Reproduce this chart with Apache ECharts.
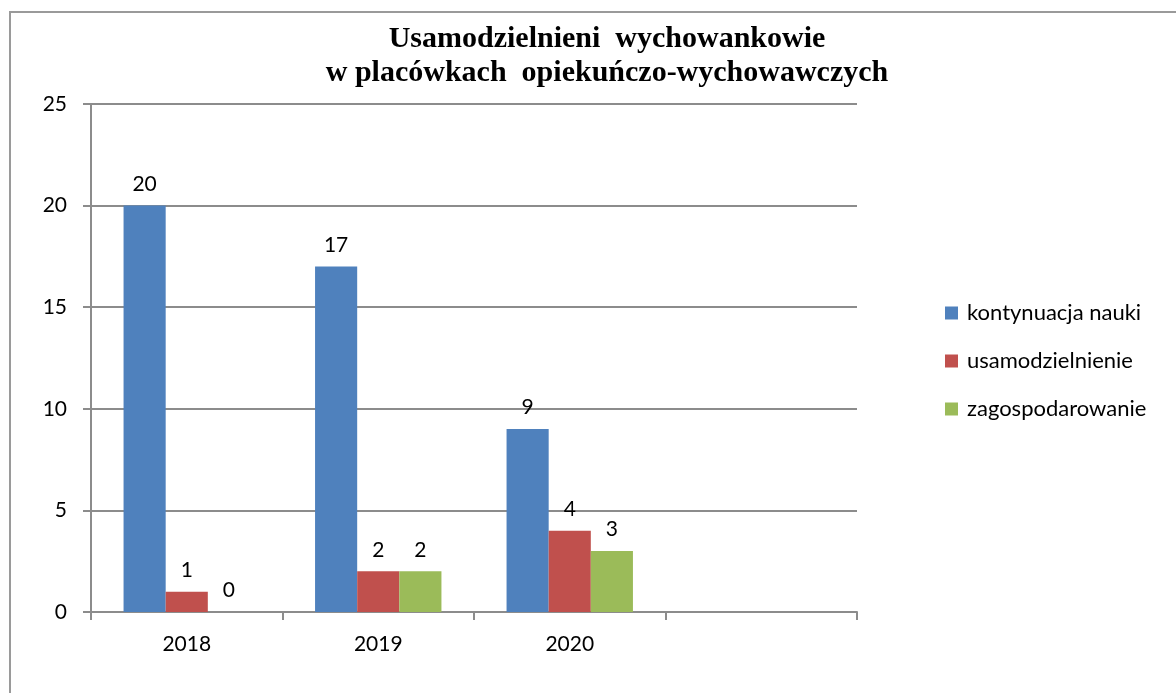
<!DOCTYPE html>
<html>
<head>
<meta charset="utf-8">
<script src="https://cdn.jsdelivr.net/npm/echarts@6/dist/echarts.min.js"></script>
<style>
  html, body { margin: 0; padding: 0; background: #fff; }
  #frame { position: absolute; left: 9px; top: 11px; right: 0; bottom: 0;
           border-left: 2px solid #9a9a9a; border-top: 2px solid #9a9a9a; }
  #char1 { position: absolute; left: 0; top: 0; width: 1176px; height: 693px; }
</style>
</head>
<body>
<div id="frame"></div>
<div id="char1"></div>
<script>
// categories (the 4th slot is empty in the original chart)
var years = ['2018', '2019', '2020', ''];
var kontynuacja = [20, 17, 9, '-'];
var usamodzielnienie = [1, 2, 4, '-'];
var zagospodarowanie = [0, 2, 3, '-'];
var seriesNames = ['kontynuacja nauki', 'usamodzielnienie', 'zagospodarowanie'];

var myChart = echarts.init(document.getElementById('char1'));

var labelStyle = {
    show: true,
    position: 'top',
    distance: 11,
    color: '#000',
    fontFamily: 'Lato',
    fontSize: 21
};

var option = {
    animation: false,
    title: {
        text: 'Usamodzielnieni  wychowankowie\nw placówkach  opiekuńczo-wychowawczych',
        left: 602,
        top: 17,
        textAlign: 'center',
        textStyle: {
            fontFamily: 'Liberation Serif',
            fontWeight: 'bold',
            fontSize: 30,
            lineHeight: 34,
            color: '#000'
        }
    },
    legend: {
        orient: 'vertical',
        left: 940,
        top: 297,
        itemWidth: 13,
        itemHeight: 13,
        itemGap: 26,
        icon: 'rect',
        data: seriesNames,
        textStyle: {
            fontFamily: 'Lato',
            fontSize: 22,
            lineHeight: 22,
            color: '#000',
            padding: [0, 0, 0, 4]
        }
    },
    grid: {
        left: 91,
        right: 319,
        top: 104,
        bottom: 81
    },
    xAxis: [{
        type: 'category',
        data: years,
        axisLine: { lineStyle: { color: '#8c8c8c', width: 2 } },
        axisTick: { show: true, length: 8, lineStyle: { color: '#8c8c8c', width: 2 } },
        axisLabel: {
            color: '#000',
            fontFamily: 'Lato',
            fontSize: 21,
            margin: 22
        },
        splitLine: { show: false }
    }],
    yAxis: [{
        type: 'value',
        min: 0,
        max: 25,
        interval: 5,
        axisLine: { show: true, lineStyle: { color: '#8c8c8c', width: 2 } },
        axisTick: { show: true, length: 8, lineStyle: { color: '#8c8c8c', width: 2 } },
        axisLabel: {
            color: '#000',
            fontFamily: 'Lato',
            fontSize: 21,
            margin: 24
        },
        splitLine: { show: true, lineStyle: { color: '#8c8c8c', width: 2 } }
    }],
    series: [{
            name: seriesNames[0],
            type: 'bar',
            data: kontynuacja,
            barGap: '0%',
            barCategoryGap: '34%',
            label: labelStyle,
            itemStyle: { color: '#4f81bd' }
        },
        {
            name: seriesNames[1],
            type: 'bar',
            data: usamodzielnienie,
            label: labelStyle,
            itemStyle: { color: '#c0504d' }
        },
        {
            name: seriesNames[2],
            type: 'bar',
            data: zagospodarowanie,
            label: labelStyle,
            itemStyle: { color: '#9bbb59' }
        }
    ]
};

myChart.setOption(option);
window.addEventListener('resize', function() { myChart.resize(); });
</script>
</body>
</html>
